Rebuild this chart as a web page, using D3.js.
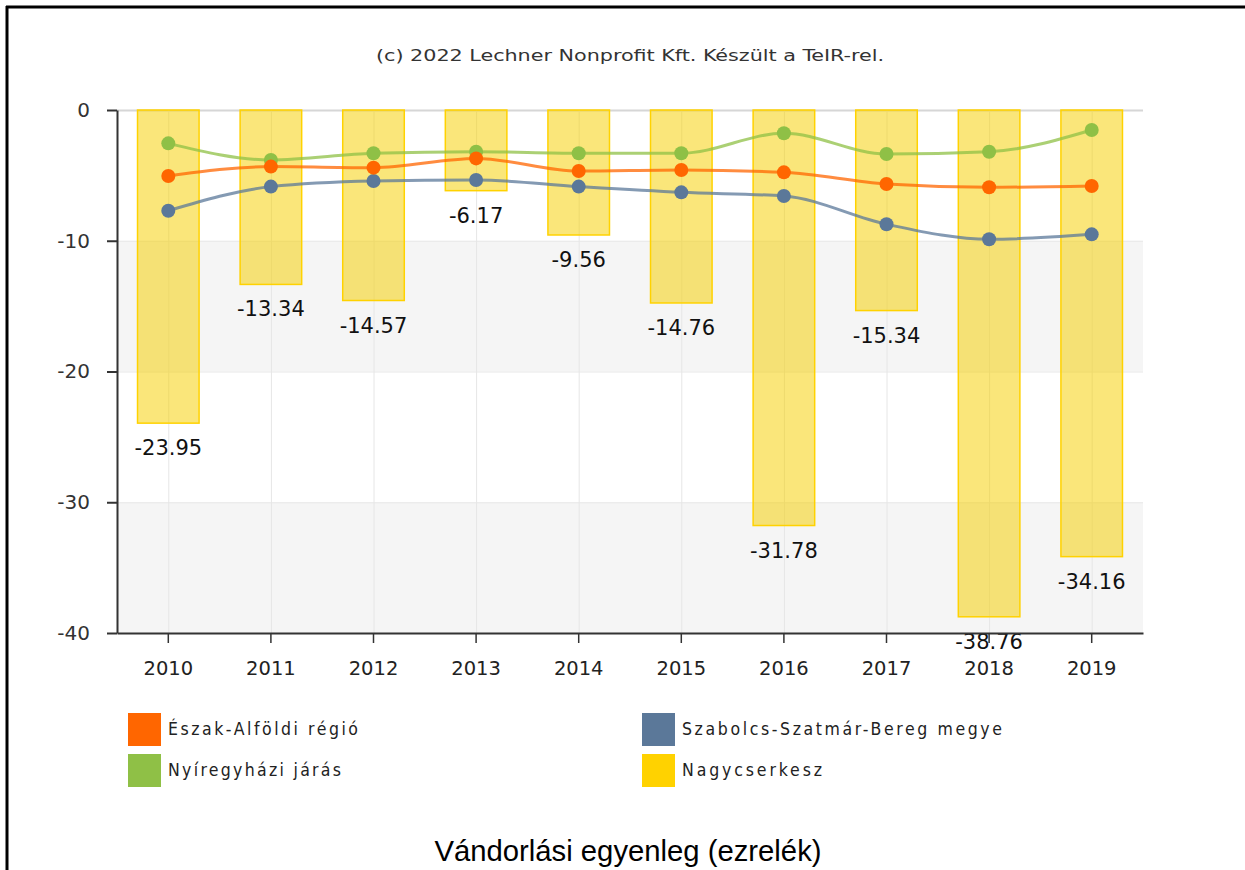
<!DOCTYPE html>
<html>
<head>
<meta charset="utf-8">
<script src="https://cdn.jsdelivr.net/npm/d3@7"></script>
<style>
  html, body { margin: 0; padding: 0; background: #fff; }
  svg { display: block; }
</style>
</head>
<body>
<svg id="chart" width="1245" height="870"></svg>
<script>
const years = ["2010","2011","2012","2013","2014","2015","2016","2017","2018","2019"];
const eszakAlfoldi = [-5.05, -4.33, -4.41, -3.70, -4.67, -4.59, -4.77, -5.66, -5.91, -5.81];
const szabolcs = [-7.70, -5.86, -5.43, -5.35, -5.86, -6.30, -6.58, -8.74, -9.89, -9.51];
const nyiregyhazi = [-2.55, -3.82, -3.31, -3.19, -3.31, -3.31, -1.78, -3.37, -3.19, -1.53];
const nagycserkesz = [-23.95, -13.34, -14.57, -6.17, -9.56, -14.76, -31.78, -15.34, -38.76, -34.16];
const yTicks = [0, -10, -20, -30, -40];
const seriesNames = ["Észak-Alföldi régió", "Szabolcs-Szatmár-Bereg megye", "Nyíregyházi járás", "Nagycserkesz"];
const titleText = "(c) 2022 Lechner Nonprofit Kft. Készült a TeIR-rel.";
const captionText = "Vándorlási egyenleg (ezrelék)";

const svg = d3.select("#chart");
const pLeft = 117, pRight = 1143, pTop = 110, pBottom = 633;

const x = d3.scaleBand().domain(years).range([pLeft, pRight]).padding(0);
const y = d3.scaleLinear().domain([-40, 0]).range([pBottom, pTop]);
const cx = d => x(d) + x.bandwidth() / 2;

// outer frame (top and left)
svg.append("line").attr("x1", 6).attr("x2", 1245).attr("y1", 7).attr("y2", 7).attr("stroke", "#000").attr("stroke-width", 3);
svg.append("line").attr("x1", 7).attr("x2", 7).attr("y1", 6).attr("y2", 870).attr("stroke", "#000").attr("stroke-width", 3);

// title
svg.append("text").attr("x", 630).attr("y", 61).attr("text-anchor", "middle")
  .attr("font-family", "DejaVu Sans Condensed, DejaVu Sans").attr("font-size", 16).attr("fill", "#333")
  .attr("textLength", 508).attr("lengthAdjust", "spacingAndGlyphs").text(titleText);

// alternating bands
const bandPairs = [[-10, -20], [-30, -40]];
svg.append("g").selectAll("rect").data(bandPairs).join("rect")
  .attr("x", pLeft).attr("width", pRight - pLeft)
  .attr("y", d => y(d[0])).attr("height", d => y(d[1]) - y(d[0]))
  .attr("fill", "#f5f5f5");

// horizontal gridlines
svg.append("g").selectAll("line").data(yTicks.filter(t => t !== -40)).join("line")
  .attr("x1", pLeft).attr("x2", pRight)
  .attr("y1", d => y(d) + 0.5).attr("y2", d => y(d) + 0.5)
  .attr("stroke", d => d === 0 ? "#d6d6d6" : "#e8e8e8").attr("stroke-width", d => d === 0 ? 2 : 1);

// vertical gridlines
svg.append("g").selectAll("line").data(years).join("line")
  .attr("x1", d => cx(d) + 0.5).attr("x2", d => cx(d) + 0.5)
  .attr("y1", pTop).attr("y2", pBottom)
  .attr("stroke", "#e6e6e6");

// bars
const barW = x.bandwidth() * 0.6;
svg.append("g").selectAll("rect").data(years).join("rect")
  .attr("x", d => cx(d) - barW / 2)
  .attr("y", y(0))
  .attr("width", barW)
  .attr("height", (d, i) => y(nagycserkesz[i]) - y(0))
  .attr("fill", "rgba(245, 208, 0, 0.52)")
  .attr("stroke", "#ffd200").attr("stroke-width", 1.5);

// lines
const line = d3.line().x(d => cx(d[0])).y(d => y(d[1])).curve(d3.curveMonotoneX);
const lineSeries = [
  { vals: nyiregyhazi, color: "#8fc046" },
  { vals: szabolcs, color: "#5b7899" },
  { vals: eszakAlfoldi, color: "#ff6600" }
];
lineSeries.forEach(s => {
  svg.append("path").datum(years.map((yr, i) => [yr, s.vals[i]]))
    .attr("d", line).attr("fill", "none").attr("stroke", s.color)
    .attr("stroke-width", 3).attr("stroke-opacity", 0.75);
});
lineSeries.forEach(s => {
  svg.append("g").selectAll("circle").data(years).join("circle")
    .attr("cx", d => cx(d)).attr("cy", (d, i) => y(s.vals[i]))
    .attr("r", 7).attr("fill", s.color);
});

// data labels
svg.append("g").selectAll("text").data(years).join("text")
  .attr("x", d => cx(d)).attr("y", (d, i) => y(nagycserkesz[i]) + 32)
  .attr("text-anchor", "middle").attr("font-family", "DejaVu Sans").attr("font-size", 21)
  .attr("fill", "#111").text((d, i) => nagycserkesz[i].toFixed(2));

// y axis
const yAxis = svg.append("g").attr("transform", `translate(${pLeft},0)`)
  .call(d3.axisLeft(y).tickValues(yTicks).tickFormat(d => String(d)).tickSize(10).tickSizeOuter(0).tickPadding(17));
yAxis.select(".domain").attr("stroke", "#333").attr("stroke-width", 2);
yAxis.selectAll(".tick line").attr("stroke", "#333").attr("stroke-width", 2);
yAxis.selectAll("text").attr("font-family", "DejaVu Sans").attr("font-size", 20).attr("fill", "#333");

// x axis
const xAxis = svg.append("g").attr("transform", `translate(0,${pBottom})`)
  .call(d3.axisBottom(x).tickSize(10).tickSizeOuter(0).tickPadding(18));
xAxis.select(".domain").attr("stroke", "#333").attr("stroke-width", 2);
xAxis.selectAll(".tick line").attr("stroke", "#333").attr("stroke-width", 1.5);
xAxis.selectAll("text").attr("font-family", "DejaVu Sans").attr("font-size", 19.5).attr("fill", "#222");

// legend
const legendItems = [
  { name: seriesNames[0], color: "#ff6600", lx: 128, ly: 713, tlen: 190 },
  { name: seriesNames[1], color: "#5b7899", lx: 642, ly: 713, tlen: 320 },
  { name: seriesNames[2], color: "#8fc046", lx: 128, ly: 754, tlen: 173 },
  { name: seriesNames[3], color: "#ffd200", lx: 642, ly: 754, tlen: 140 }
];
const lg = svg.append("g").selectAll("g").data(legendItems).join("g");
lg.append("rect").attr("x", d => d.lx).attr("y", d => d.ly).attr("width", 33).attr("height", 33)
  .attr("fill", d => d.color);
lg.append("text").attr("x", d => d.lx + 40).attr("y", d => d.ly + 22)
  .attr("font-family", "DejaVu Sans Condensed, DejaVu Sans").attr("font-size", 17.5).attr("fill", "#222")
  .attr("textLength", d => d.tlen).attr("lengthAdjust", "spacing")
  .text(d => d.name);

// caption
svg.append("text").attr("x", 628).attr("y", 861).attr("text-anchor", "middle")
  .attr("font-family", "Liberation Sans, Arial").attr("font-size", 29).attr("fill", "#000")
  .attr("textLength", 387).attr("lengthAdjust", "spacingAndGlyphs")
  .text(captionText);
</script>
</body>
</html>
